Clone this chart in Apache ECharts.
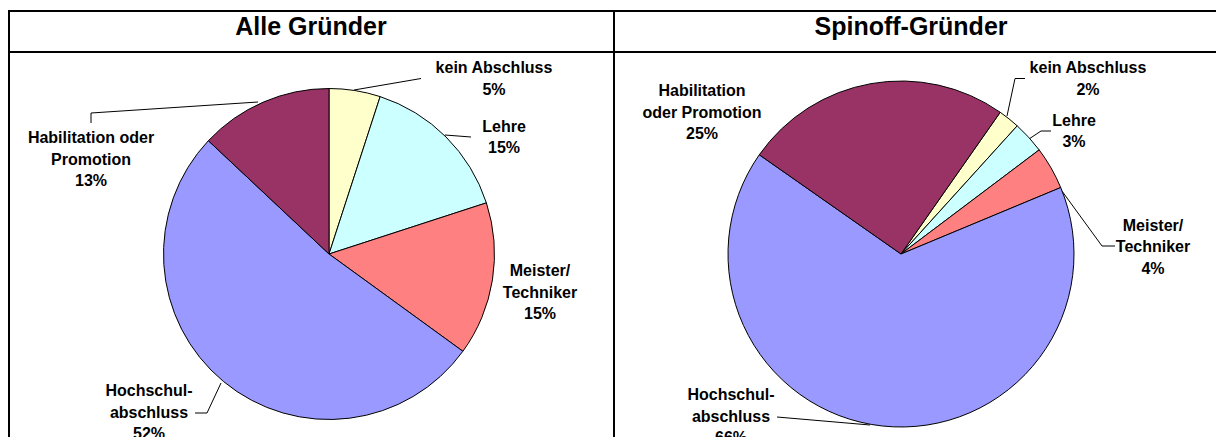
<!DOCTYPE html>
<html>
<head>
<meta charset="utf-8">
<script src="https://cdn.jsdelivr.net/npm/echarts@6/dist/echarts.min.js"></script>
<style>
  body { margin: 0; background: #fff; }
  #main { width: 1216px; height: 437px; }
</style>
</head>
<body>
<div id="main"></div>
<script>
// Daten (Anteile in %)
const categories = ['kein Abschluss', 'Lehre', 'Meister/Techniker', 'Hochschulabschluss', 'Habilitation oder Promotion'];
const alleValues = [5, 15, 15, 52, 13];
const spinoffValues = [2, 3, 4, 66, 25];
// Beschriftungen mit Zeilenumbruch wie im Original
const alleLabels = ['kein Abschluss', 'Lehre', 'Meister/\nTechniker', 'Hochschul-\nabschluss', 'Habilitation oder\nPromotion'];
const spinoffLabels = ['kein Abschluss', 'Lehre', 'Meister/\nTechniker', 'Hochschul-\nabschluss', 'Habilitation\noder Promotion'];
const titles = ['Alle Gründer', 'Spinoff-Gründer'];

// Layout der Beschriftungen (Mittelpunkt) und Führungslinien
const alleLabelPos = [[494, 78.5], [504, 137], [540, 292], [149, 412], [91, 159]];
const alleLinePts = [
  [[354, 90], [421, 78.5]],
  [[445, 135], [471, 137]],
  null,
  [[221, 383], [207, 413], [195, 413]],
  [[258, 102], [91, 113], [91, 123]]
];
const spinoffLabelPos = [[1088, 78.5], [1074, 131], [1153, 246.5], [731, 416], [702, 112]];
const spinoffLinePts = [
  [[1007, 116], [1015, 78.5], [1025, 78.5]],
  [[1029, 139], [1041, 131], [1051, 131]],
  [[1051, 176], [1102, 246], [1115, 246]],
  [[777, 417], [870, 425]],
  null
];

const sliceColors = ['#FFFFCC', '#CCFFFF', '#FF8080', '#9999FF', '#993366'];
const font = '"Liberation Sans", Arial, sans-serif';

function buildData(values, lines) {
  return values.map((v, i) => {
    const item = { name: categories[i], value: v, itemStyle: { color: sliceColors[i] } };
    if (!lines[i]) item.labelLine = { show: false };
    return item;
  });
}

function pieSeries(values, labels, center, radius, startAngle, pos, lines) {
  return {
    type: 'pie',
    center: center,
    radius: radius,
    startAngle: startAngle,
    clockwise: true,
    avoidLabelOverlap: false,
    silent: true,
    itemStyle: { borderColor: '#000', borderWidth: 1 },
    label: {
      show: true,
      position: 'outside',
      formatter: p => labels[p.dataIndex] + '\n' + p.value + '%',
      color: '#000',
      fontFamily: font,
      fontWeight: 'bold',
      fontSize: 16,
      lineHeight: 21.5,
      align: 'center'
    },
    labelLine: {
      show: true,
      lineStyle: { color: '#000', width: 1 }
    },
    labelLayout: params => {
      const i = params.dataIndex;
      const res = {
        x: pos[i][0],
        y: pos[i][1],
        align: 'center',
        verticalAlign: 'middle'
      };
      if (lines[i]) res.labelLinePoints = lines[i];
      return res;
    },
    data: buildData(values, lines)
  };
}

const chart = echarts.init(document.getElementById('main'), null, { renderer: 'svg' });

const option = {
  animation: false,
  graphic: [
    // Rahmen
    { type: 'line', shape: { x1: 8, y1: 11, x2: 1216, y2: 11 }, style: { stroke: '#000', lineWidth: 2 } },
    { type: 'line', shape: { x1: 8, y1: 52, x2: 1216, y2: 52 }, style: { stroke: '#000', lineWidth: 2 } },
    { type: 'line', shape: { x1: 9, y1: 10, x2: 9, y2: 437 }, style: { stroke: '#000', lineWidth: 2 } },
    { type: 'line', shape: { x1: 614, y1: 10, x2: 614, y2: 437 }, style: { stroke: '#000', lineWidth: 2 } },
    // Überschriften
    {
      type: 'text', x: 311, y: 26,
      style: { text: titles[0], textAlign: 'center', textVerticalAlign: 'middle', font: 'bold 25px ' + font, fill: '#000' }
    },
    {
      type: 'text', x: 911, y: 26,
      style: { text: titles[1], textAlign: 'center', textVerticalAlign: 'middle', font: 'bold 25px ' + font, fill: '#000' }
    }
  ],
  series: [
    pieSeries(alleValues, alleLabels, [329, 254], 165.5, 90, alleLabelPos, alleLinePts),
    pieSeries(spinoffValues, spinoffLabels, [901, 254], 173, 55, spinoffLabelPos, spinoffLinePts)
  ]
};

chart.setOption(option);
</script>
</body>
</html>
